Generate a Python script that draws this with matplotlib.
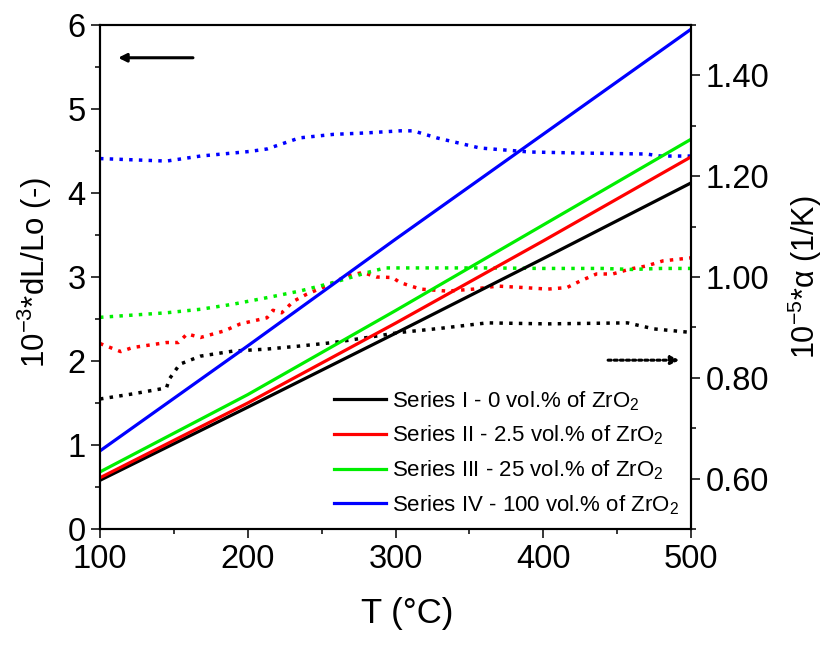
import matplotlib.pyplot as plt
from matplotlib.ticker import MultipleLocator, FormatStrFormatter

plt.rcParams['font.family'] = ['Liberation Sans', 'DejaVu Sans']
plt.rcParams['mathtext.default'] = 'regular'

# ==== solid lines: dL/Lo (left axis) ====
t_lin = [100, 200, 300, 400, 500]
dl_s1 = [0.58, 1.45, 2.33, 3.22, 4.12]
dl_s2 = [0.61, 1.50, 2.45, 3.43, 4.43]
dl_s3 = [0.68, 1.60, 2.60, 3.62, 4.64]
dl_s4 = [0.93, 2.18, 3.45, 4.70, 5.95]

# ==== dotted lines: alpha (right axis) ====
t_a1 = [100, 122, 145, 147, 154, 168, 190, 213, 235, 258, 281, 303, 330, 362, 403, 430, 457, 475, 500]
al_s1 = [0.758, 0.768, 0.780, 0.798, 0.827, 0.843, 0.853, 0.857, 0.863, 0.870, 0.880, 0.890,
         0.898, 0.909, 0.907, 0.908, 0.909, 0.897, 0.890]

t_a2 = [100, 114, 122, 145, 153, 159, 168, 184, 195, 213, 217, 223, 231, 240, 253, 267, 278, 287,
        298, 303, 317, 335, 353, 369, 387, 403, 416, 425, 436, 447, 459, 470, 481, 500]
al_s2 = [0.868, 0.852, 0.860, 0.870, 0.870, 0.887, 0.880, 0.893, 0.907, 0.919, 0.934, 0.929,
         0.952, 0.966, 0.982, 1.002, 1.009, 1.000, 0.999, 0.989, 0.976, 0.972, 0.976, 0.982,
         0.979, 0.976, 0.979, 0.992, 1.006, 1.006, 1.016, 1.022, 1.032, 1.038]

t_a3 = [100, 145, 168, 190, 213, 235, 258, 281, 293, 320, 360, 400, 440, 460, 480, 500]
al_s3 = [0.920, 0.929, 0.936, 0.946, 0.959, 0.972, 0.989, 1.009, 1.018, 1.018, 1.018, 1.017,
         1.017, 1.015, 1.017, 1.017]

t_a4 = [100, 145, 168, 201, 213, 235, 258, 281, 303, 312, 328, 357, 391, 425, 470, 479, 500]
al_s4 = [1.235, 1.230, 1.240, 1.249, 1.254, 1.276, 1.283, 1.286, 1.290, 1.290, 1.276, 1.256,
         1.248, 1.246, 1.244, 1.240, 1.240]

labels = [
    "Series I - 0 vol.% of ZrO$_2$",
    "Series II - 2.5 vol.% of ZrO$_2$",
    "Series III - 25 vol.% of ZrO$_2$",
    "Series IV - 100 vol.% of ZrO$_2$",
]
colors = ["#000000", "#FF0000", "#00EE00", "#0000FF"]

fig = plt.figure(figsize=(8.25, 6.46), dpi=100)
ax = fig.add_axes([0.1212, 0.1811, 0.7164, 0.7802])
ax2 = ax.twinx()

# 虚线 (alpha)
dot = (0, (1, 1.8))
for tt, yy, c in zip([t_a1, t_a2, t_a3, t_a4], [al_s1, al_s2, al_s3, al_s4], colors):
    ax2.plot(tt, yy, color=c, linewidth=2.5, linestyle=dot)

# 实线 (dL/Lo)
for yy, c, lab in zip([dl_s1, dl_s2, dl_s3, dl_s4], colors, labels):
    ax.plot(t_lin, yy, color=c, linewidth=2.3, label=lab)

ax.set_zorder(ax2.get_zorder() + 1)
ax.patch.set_visible(False)

ax.set_xlim(100, 500)
ax.set_ylim(0, 6)
ax2.set_ylim(0.5, 1.5)

ax.xaxis.set_major_locator(MultipleLocator(100))
ax.xaxis.set_minor_locator(MultipleLocator(50))
ax.yaxis.set_major_locator(MultipleLocator(1))
ax.yaxis.set_minor_locator(MultipleLocator(0.5))
ax2.yaxis.set_minor_locator(MultipleLocator(0.1))
ax2.set_yticks([0.6, 0.8, 1.0, 1.2, 1.4])
ax2.yaxis.set_major_formatter(FormatStrFormatter("%.2f"))

for a in (ax, ax2):
    for s in a.spines.values():
        s.set_linewidth(1.5)
    a.tick_params(which="major", direction="out", length=6.5, width=1.1, labelsize=23.5, pad=4)
    a.tick_params(which="minor", direction="out", length=3.5, width=1.1)

ax.set_xlabel("T (°C)", fontsize=25)
ax.xaxis.set_label_coords(0.52, -0.135)
ax.set_ylabel("10$^{-3}$*dL/Lo (-)", fontsize=22.5)
ax.yaxis.set_label_coords(-0.077, 0.51)
ax2.set_ylabel(r"10$^{-5}$*$\alpha$ (1/K)", fontsize=22, labelpad=12)

# 方向箭头
ax.annotate("", xy=(0.026, 0.935), xytext=(0.162, 0.935), xycoords="axes fraction",
            arrowprops=dict(arrowstyle="-|>", color="black", lw=2.2, mutation_scale=12))
ax.annotate("", xy=(0.985, 0.335), xytext=(0.855, 0.335), xycoords="axes fraction",
            arrowprops=dict(arrowstyle="-|>", color="black", lw=2.2, linestyle=(0, (1, 1)),
                            mutation_scale=12))

ax.legend(loc="lower right", bbox_to_anchor=(1.0, 0.0), fontsize=16, frameon=False,
          handlelength=2.35, handletextpad=0.25, labelspacing=0.5, borderaxespad=0.15)

plt.savefig("out.png", dpi=100)
plt.close()
